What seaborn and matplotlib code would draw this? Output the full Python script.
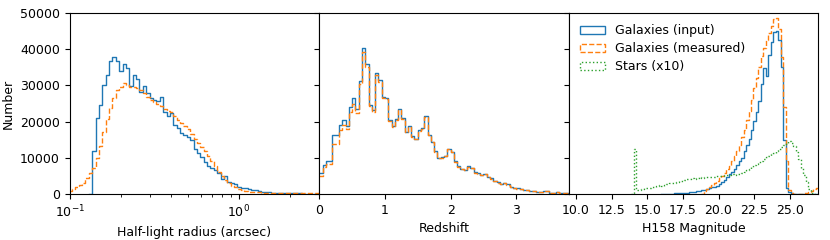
import numpy as np
import pandas as pd
import seaborn as sns
import matplotlib.pyplot as plt
from matplotlib.patches import Patch
from matplotlib.ticker import FormatStrFormatter

plt.rcParams['font.size'] = 9

BLUE, ORANGE, GREEN = '#1f77b4', '#ff7f0e', '#2ca02c'
LW = 1.0

# --- half-light radius (arcsec), 0.02 dex bins, counts in thousands
size_edges = np.logspace(-1.007, 0.493, 76)
size_input = [0, 0, 0, 0, 0, 0, 0, 12.0, 21.0, 24.5, 30.2, 33.0, 36.7, 37.8, 36.7, 33.9,
              36.0, 34.8, 29.8, 33.0, 31.8, 28.3, 29.8, 27.9, 26.4, 26.0, 25.6, 26.7, 22.6,
              21.6, 22.4, 19.2, 18.1, 16.9, 16.3, 15.8, 15.0, 12.3, 11.4, 10.2, 8.7, 7.7, 7.2,
              6.5, 5.8, 4.0, 5.0, 3.3, 3.0, 2.8, 1.9, 1.6, 1.5, 1.3, 1.1, 1.0, 0.7, 0.6, 0.5,
              0.4, 0.35, 0.3, 0.25, 0.2, 0.2, 0.15, 0.15, 0.12, 0.12, 0.1, 0.1, 0.08, 0.08,
              0.06, 0.06]
size_measured = [0.9, 1.3, 1.8, 2.5, 3.1, 4.3, 5.7, 7.1, 9.9, 13.3, 17.2, 20.6, 23.7, 26.5,
                 28.8, 29.7, 30.6, 30.1, 29.7, 29.5, 29.2, 28.8, 27.8, 26.9, 26.0, 25.5, 24.9,
                 24.3, 23.5, 23.0, 22.8, 21.6, 20.5, 19.7, 18.8, 17.9, 16.6, 15.3, 14.2, 13.1,
                 11.9, 10.5, 9.0, 7.6, 6.2, 5.0, 3.9, 3.0, 2.2, 1.8, 1.3, 1.0, 0.8, 0.65, 0.55,
                 0.45, 0.4, 0.38, 0.35, 0.33, 0.3, 0.3, 0.28, 0.27, 0.26, 0.25, 0.24, 0.23,
                 0.22, 0.21, 0.2, 0.2, 0.19, 0.18, 0.18]

# --- redshift, 0.05 bins
z_edges = np.linspace(0, 3.8, 77)
z_input = [5.8, 8.1, 9.2, 9.2, 16.3, 16.3, 19.0, 20.4, 18.8, 24.1, 26.5, 23.4, 31.2, 40.5,
           36.0, 24.7, 23.2, 33.4, 31.5, 26.9, 26.5, 20.4, 18.8, 20.7, 23.4, 20.9, 17.2, 18.8,
           15.9, 15.3, 17.6, 18.2, 21.5, 16.4, 14.5, 11.8, 9.9, 10.1, 10.6, 12.4, 11.6, 9.0,
           7.6, 7.0, 6.7, 7.6, 7.3, 6.0, 5.7, 5.3, 5.6, 4.8, 4.3, 3.6, 3.2, 2.8, 3.0, 2.7, 1.9,
           1.6, 1.5, 1.4, 1.1, 1.1, 0.9, 0.8, 0.65, 0.65, 0.75, 0.75, 0.3, 0.3, 0.4, 0.2, 0.2,
           0.2]
z_measured = [4.9, 7.5, 8.4, 8.4, 13.7, 13.7, 17.7, 19.0, 18.0, 22.8, 25.0, 22.5, 30.5, 39.2,
              35.2, 24.2, 22.8, 33.0, 31.0, 26.5, 26.2, 20.1, 18.6, 20.4, 23.1, 20.7, 17.0,
              18.6, 15.7, 15.1, 17.4, 18.0, 21.2, 16.2, 14.3, 11.7, 9.8, 10.0, 10.5, 12.3,
              11.5, 8.9, 7.5, 6.9, 6.6, 7.5, 7.2, 5.9, 5.6, 5.2, 5.5, 4.7, 4.2, 3.5, 3.1, 2.7,
              2.9, 2.6, 1.8, 1.5, 1.4, 1.3, 1.0, 1.0, 0.8, 0.7, 0.6, 0.6, 0.7, 0.7, 0.3, 0.3,
              0.4, 0.2, 0.2, 0.2]

# --- H158 magnitude, 0.175 mag bins from 9.5 to 27
mag_edges = np.linspace(9.5, 27.0, 101)
mag_input = [0] * 38 + [
    0.05, 0.05, 0.1, 0.1, 0.15, 0.2, 0.2, 0.25, 0.3, 0.35, 0.4, 0.5, 0.6, 0.7, 0.8, 0.95,
    1.1, 1.3, 1.5, 1.8, 2.0, 2.3, 2.7, 3.2, 3.8, 4.6, 5.4, 6.2, 7.0, 8.0, 9.0, 10.0, 11.8,
    13.5, 15.2, 17.8, 20.2, 22.8, 25.6, 30.5, 34.8, 32.5, 38.5, 42.0, 44.8, 45.0, 42.5,
    35.0, 15.0, 1.5, 0.5, 0.2, 0, 0, 0, 0, 0, 0, 0, 0, 0, 0]
mag_measured = [0] * 54 + [
    0.8, 1.3, 1.9, 2.5, 3.0, 3.6, 4.3, 5.0, 5.8, 6.8, 7.8, 9.0, 10.6, 12.0, 13.6, 15.8,
    17.8, 20.5, 23.0, 26.0, 29.2, 32.2, 35.0, 38.2, 40.5, 42.5, 44.5, 46.5, 48.3, 48.7,
    45.5, 38.0, 24.0, 9.0, 1.0, 0.2, 0.1, 0.1, 0.1, 0.1, 0.15, 0.2, 0.4, 0.8, 1.3, 1.7]
mag_stars = [0] * 26 + [
    12.5, 1.1, 1.2, 1.4, 1.5, 1.7, 1.6, 1.8, 1.9, 2.2, 2.4, 2.3, 2.6, 2.8, 2.9, 3.1, 3.0,
    3.4, 3.6, 3.5, 3.8, 4.0, 4.1, 4.3, 4.2, 4.4, 4.6, 4.5, 4.7, 4.6, 4.6, 4.8, 4.7, 4.9,
    5.0, 4.9, 5.2, 5.1, 5.3, 5.4, 5.3, 5.6, 5.5, 5.8, 6.2, 6.5, 6.9, 7.4, 7.9, 8.3, 8.7,
    9.1, 9.6, 10.1, 10.5, 11.0, 11.4, 11.8, 12.3, 12.9, 13.5, 14.2, 14.6, 14.2, 13.2,
    11.7, 9.6, 7.3, 5.2, 3.3, 1.4, 0.2, 0, 0]
mag_ticks = [10.0, 12.5, 15.0, 17.5, 20.0, 22.5, 25.0]


def step_hist(ax, edges, counts, color, ls, log=False):
    counts = np.asarray(counts, dtype=float) * 1000
    first = max(np.nonzero(counts)[0][0] - 1, 0)
    edges, counts = edges[first:], counts[first:]
    if log:
        centres = np.sqrt(edges[:-1] * edges[1:])
        bins = np.log10(edges)
    else:
        centres = (edges[:-1] + edges[1:]) / 2
        bins = edges
    df = pd.DataFrame({'x': centres, 'n': counts})
    # seaborn compares bins to "auto", so hand it a plain list
    sns.histplot(data=df, x='x', weights='n', bins=list(bins), log_scale=log,
                 element='step', fill=False, color=color, linestyle=ls,
                 linewidth=LW, ax=ax)


fig, axes = plt.subplots(1, 3, sharey=True, figsize=(8.3, 2.4), dpi=100)
fig.subplots_adjust(left=0.084, right=0.986, top=0.945, bottom=0.192, wspace=0)
ax1, ax2, ax3 = axes

step_hist(ax1, size_edges, size_input, BLUE, '-', log=True)
step_hist(ax1, size_edges, size_measured, ORANGE, '--', log=True)
ax1.set_xlim(0.1, 3.0)
ax1.set_xlabel('Half-light radius (arcsec)')
ax1.set_ylabel('Number')

step_hist(ax2, z_edges, z_input, BLUE, '-')
step_hist(ax2, z_edges, z_measured, ORANGE, '--')
ax2.set_xlim(0, 3.8)
ax2.set_xticks([0, 1, 2, 3])
ax2.set_xlabel('Redshift')

step_hist(ax3, mag_edges, mag_input, BLUE, '-')
step_hist(ax3, mag_edges, mag_measured, ORANGE, '--')
step_hist(ax3, mag_edges, mag_stars, GREEN, ':')
ax3.set_xlim(9.5, 27.0)
ax3.set_xticks(mag_ticks)
ax3.xaxis.set_major_formatter(FormatStrFormatter('%.1f'))
ax3.set_xlabel('H158 Magnitude')

ax1.set_ylim(0, 50000)
ax1.set_yticks(np.arange(0, 50001, 10000))
for ax in (ax2, ax3):
    ax.set_ylabel('')

handles = [Patch(facecolor='none', edgecolor=BLUE, linestyle='-', linewidth=LW),
           Patch(facecolor='none', edgecolor=ORANGE, linestyle='--', linewidth=LW),
           Patch(facecolor='none', edgecolor=GREEN, linestyle=':', linewidth=LW)]
ax3.legend(handles, ['Galaxies (input)', 'Galaxies (measured)', 'Stars (x10)'],
           loc='upper left', frameon=False, labelspacing=0.4)

fig.savefig('out.png', dpi=100)
